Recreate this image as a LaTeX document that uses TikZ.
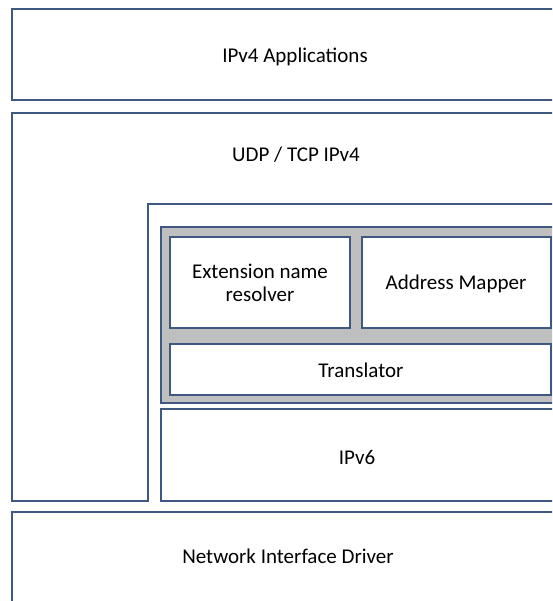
\documentclass[tikz,border=0pt]{standalone}
\usepackage{fontspec}
\setmainfont{Carlito}
\definecolor{edge}{RGB}{62,88,130}
\definecolor{panel}{RGB}{191,191,191}
\begin{document}
\begin{tikzpicture}[x=1pt,y=-1pt,
  box/.style={draw=edge,line width=2pt,fill=white,inner sep=0pt},
  lbl/.style={font=\fontsize{21}{24}\selectfont,align=center,inner sep=0pt}]
\useasboundingbox (0,0) rectangle (552,601);
\clip (0,0) rectangle (552,601);
\fill[white] (0,0) rectangle (552,601);
% IPv4 applications
\draw[box] (12,9) rectangle (580,100);
\node[lbl] (app) at (295,57) {IPv4 Applications};
% UDP / TCP IPv4 (L-shaped)
\draw[box] (580,113) -- (12,113) -- (12,501) -- (148,501) -- (148,204) -- (580,204);
\node[lbl] (udp) at (296,155) {UDP / TCP IPv4};
% gray container
\draw[draw=edge,line width=2pt,fill=panel] (161,227) rectangle (590,403);
\draw[box] (170,237) rectangle (350,328);
\node[lbl] (ext) at (260,283) {Extension name\\[-1pt]resolver};
\draw[box] (362,237) rectangle (551,328);
\node[lbl] (addr) at (456,284) {Address Mapper};
\draw[box] (170,344) rectangle (551,395);
\node[lbl] (trans) at (361,370) {Translator};
% IPv6
\draw[box] (161,409) rectangle (560,501);
\node[lbl] (ipv6) at (357,457) {IPv6};
% Network interface driver
\draw[box] (12,512) rectangle (580,620);
\node[lbl] (nid) at (288,556) {Network Interface Driver};
\end{tikzpicture}
\end{document}
